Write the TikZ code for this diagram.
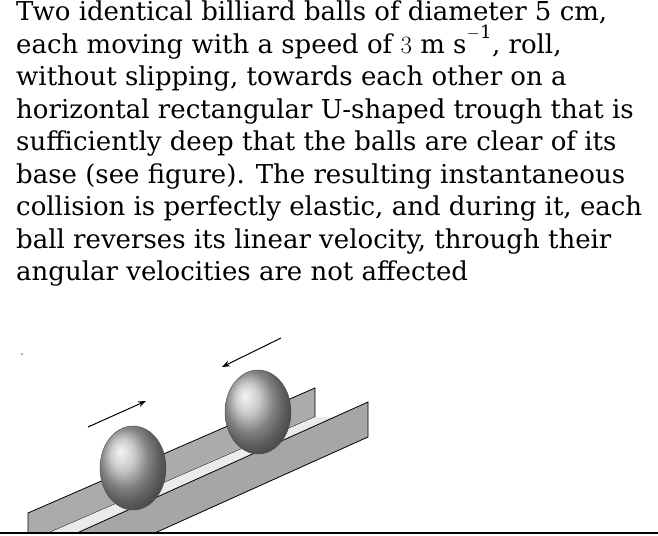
\documentclass[tikz,border=0pt]{standalone}
\usepackage{fontspec}
\setmainfont{DejaVu Serif}
\usetikzlibrary{arrows.meta}
\definecolor{wallgray}{RGB}{150,150,150}
\definecolor{floorgray}{RGB}{235,235,235}
\begin{document}
\begin{tikzpicture}[x=1pt,y=-1pt]
    \useasboundingbox (0,0) rectangle (658,535);
    % problem text
    \node[anchor=north west, inner sep=0pt, align=left, font=\fontsize{26}{32.5}\selectfont] (txt) at (16,1)
    {Two identical billiard balls of diameter 5 cm,\\
     each moving with a speed of $3\ \mathrm{m\ s^{-1}}$, roll,\\
     without slipping, towards each other on a\\
     horizontal rectangular U-shaped trough that is\\
     sufficiently deep that the balls are clear of its\\
     base (see figure). The resulting instantaneous\\
     collision is perfectly elastic, and during it, each\\
     ball reverses its linear velocity, through their\\
     angular velocities are not affected};
    % trough
    \begin{scope}
    \clip (0,0) rectangle (658,533);
    \fill[wallgray!80, draw=black, line width=0.8pt] (28,513) -- (315,388) -- (315,417) -- (28,542) -- cycle;
    \fill[floorgray] (28,542) -- (315,417) -- (340,417) -- (77,545) -- cycle;
    \fill[wallgray!85, draw=black, line width=0.8pt] (77,533) -- (368,402) -- (368,437) -- (77,568) -- cycle;
    \end{scope}
    % balls
    \shade[ball color=gray!55, draw=black!70] (133,468) ellipse (33 and 42);
    \shade[ball color=gray!55, draw=black!70] (258,412) ellipse (33 and 42);
    % velocity arrows
    \coordinate (a1) at (88,427);
    \coordinate (b1) at (146,401);
    \coordinate (a2) at (281,338);
    \coordinate (b2) at (222,367);
    \draw[-{Stealth[length=8pt]}, line width=1pt] (a1) -- (b1);
    \draw[-{Stealth[length=8pt]}, line width=1pt] (a2) -- (b2);
    \fill[gray] (22,354) circle (1);
    \draw[line width=1.2pt] (0,533) -- (658,533);
\end{tikzpicture}
\end{document}
